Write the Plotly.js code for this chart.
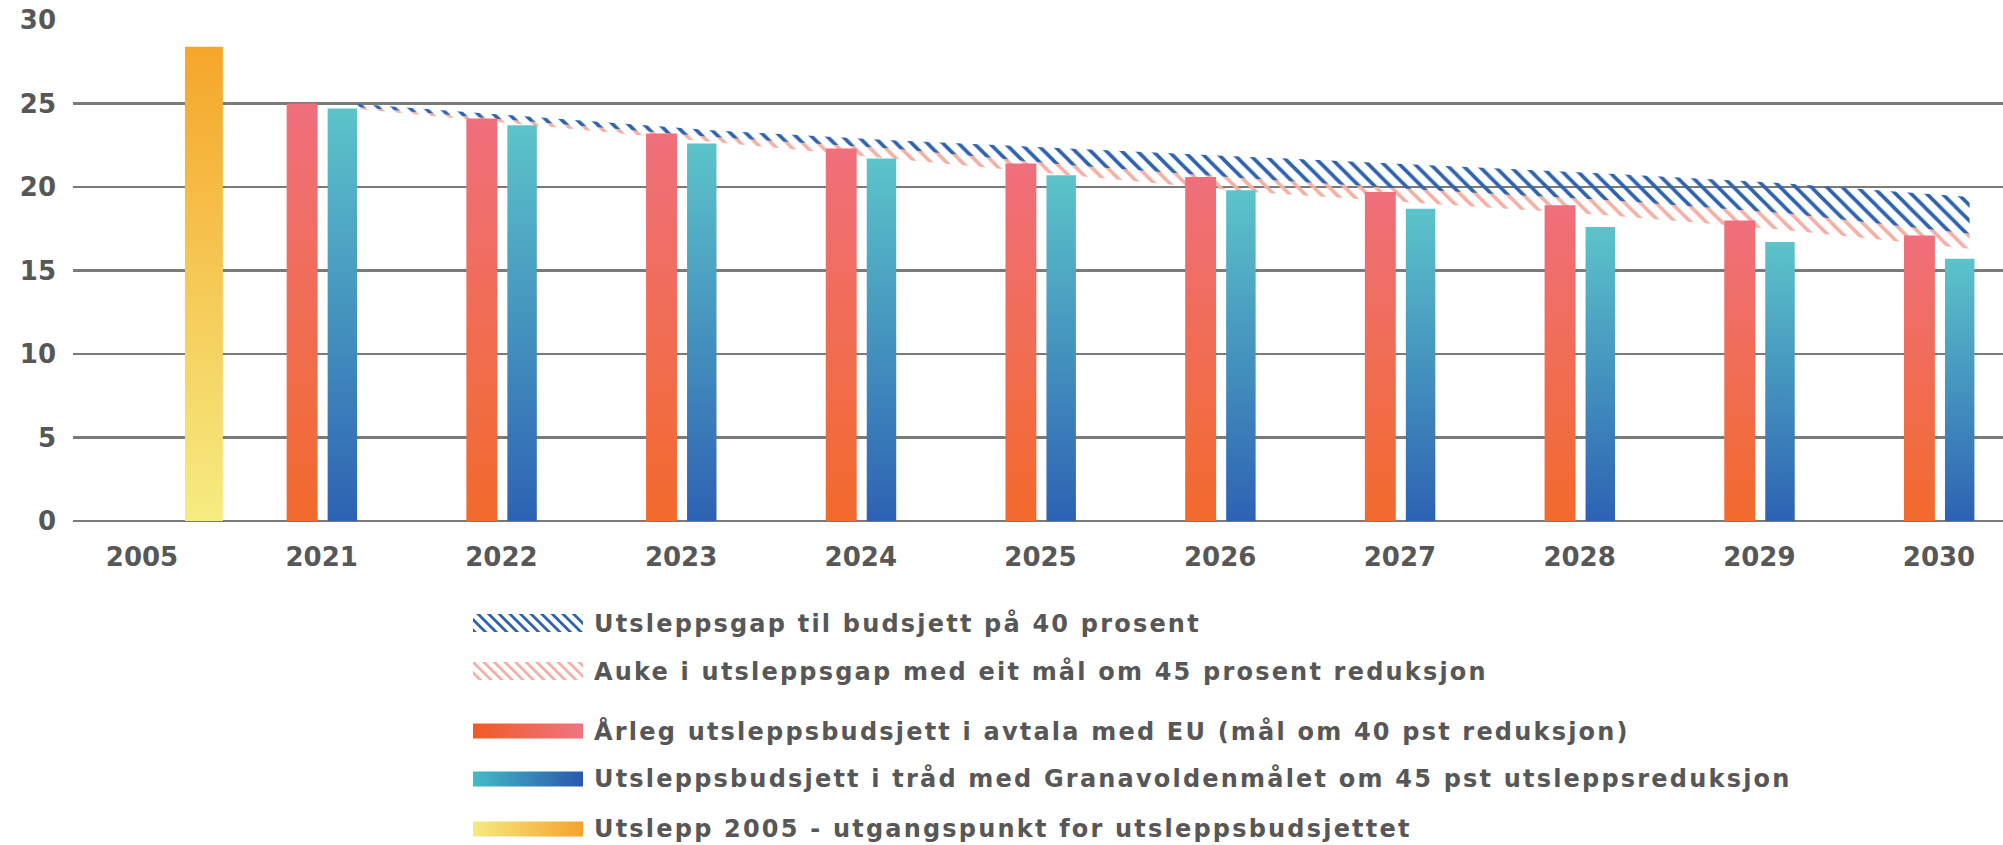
<!DOCTYPE html>
<html>
<head>
<meta charset="utf-8">
<script src="https://cdn.plot.ly/plotly-3.0.1.min.js"></script>
<style>
html,body{margin:0;padding:0;background:#ffffff;}
#chart{width:2003px;height:845px;}
</style>
</head>
<body>
<div id="chart"></div>
<script>
// ---------- data ----------
const years = ['2005','2021','2022','2023','2024','2025','2026','2027','2028','2029','2030'];
const emissions2005 = [28.4];
const budgetEU40 = [25.0, 24.1, 23.2, 22.3, 21.4, 20.6, 19.7, 18.9, 18.0, 17.1];
const budgetGranavolden45 = [24.7, 23.7, 22.6, 21.7, 20.7, 19.8, 18.7, 17.6, 16.7, 15.7];
const gapTop = [25.0, 24.2, 23.4, 22.8, 22.3, 21.8, 21.3, 20.8, 20.2, 19.4];
const gapMid = [24.8, 23.9, 23.0, 22.3, 21.3, 20.5, 19.8, 19.2, 18.4, 17.2];
const gapLow = [24.7, 23.7, 22.7, 21.7, 20.7, 19.7, 19.0, 18.3, 17.4, 16.3];
const yTicks = [0, 5, 10, 15, 20, 25, 30];
const legendLabels = [
  'Utsleppsgap til budsjett på 40 prosent',
  'Auke i utsleppsgap med eit mål om 45 prosent reduksjon',
  'Årleg utsleppsbudsjett i avtala med EU (mål om 40 pst reduksjon)',
  'Utsleppsbudsjett i tråd med Granavoldenmålet om 45 pst utsleppsreduksjon',
  'Utslepp 2005 - utgangspunkt for utsleppsbudsjettet'
];

// ---------- layout helpers ----------
const W = 2003, H = 845;
const M = {l: 73, r: 0, t: 20, b: 324};
const plotW = W - M.l - M.r, plotH = H - M.t - M.b;
const px2x = p => (p - M.l) / plotW;
const px2y = p => (H - M.b - p) / plotH;

const pos = years.map((_, i) => i);
const budgetPos = pos.slice(1);
const bandPos = budgetPos.map(v => v + 0.17);
const xRange = [-0.384, 10.356];

const font = 'DejaVu Sans, sans-serif';
const textColor = '#575757';

const traces = [
  // hatched gap bands (base subplot, below bars)
  {type:'scatter', mode:'lines', x: bandPos, y: gapLow, line:{width:0}, hoverinfo:'skip', showlegend:false},
  {type:'scatter', mode:'lines', x: bandPos, y: gapMid, line:{width:0}, fill:'tonexty',
   fillcolor:'rgba(0,0,0,0)', hoverinfo:'skip', showlegend:false, name: legendLabels[1],
   fillpattern:{shape:'\\', fgcolor:'#F4B0A4', bgcolor:'rgba(0,0,0,0)', size:11, solidity:0.33}},
  {type:'scatter', mode:'lines', x: bandPos, y: gapTop, line:{width:0}, fill:'tonexty',
   fillcolor:'rgba(0,0,0,0)', hoverinfo:'skip', showlegend:false, name: legendLabels[0],
   fillpattern:{shape:'\\', fgcolor:'#2F62AE', bgcolor:'rgba(0,0,0,0)', size:11, solidity:0.33}},
  // bars (overlaid subplot, on top)
  {type:'bar', x: budgetPos, y: budgetEU40, width:0.172, offset:-0.195, xaxis:'x2', yaxis:'y2',
   marker:{color:'#EF6B5A', line:{width:0}}, name: legendLabels[2], showlegend:false},
  {type:'bar', x: budgetPos, y: budgetGranavolden45, width:0.164, offset:0.033, xaxis:'x2', yaxis:'y2',
   marker:{color:'#4A9DC4', line:{width:0}}, name: legendLabels[3], showlegend:false},
  {type:'bar', x: [pos[0]], y: emissions2005, width:0.211, offset:0.239, xaxis:'x2', yaxis:'y2',
   marker:{color:'#F6C24A', line:{width:0}}, name: legendLabels[4], showlegend:false}
];

// legend rows (pixel centres)
const rowY = [623, 671, 731, 779, 829];
const swX0 = 473, swX1 = 583, txtX = 592;
const shapes = [];
const annotations = [];
rowY.forEach((cy, i) => {
  const h = i < 2 ? 18 : 15;
  shapes.push({type:'rect', xref:'paper', yref:'paper',
    x0: px2x(swX0), x1: px2x(swX1), y0: px2y(cy + h/2), y1: px2y(cy - h/2),
    line:{width:0}, fillcolor:'#cccccc', layer:'above'});
  annotations.push({xref:'paper', yref:'paper', x: px2x(txtX), y: px2y(cy),
    xanchor:'left', yanchor:'middle', showarrow:false, text: legendLabels[i],
    font:{family: font, size: 24, weight: 'bold', color: textColor}});
});

const layout = {
  width: W, height: H,
  margin: M,
  paper_bgcolor:'#ffffff', plot_bgcolor:'#ffffff',
  showlegend:false,
  barmode:'overlay',
  xaxis:{range: xRange, tickvals: pos, ticktext: years, showgrid:false, zeroline:false,
    showline:false, ticks:'', ticklabelstandoff: 18,
    tickfont:{family: font, size: 26, weight:'bold', color: textColor}, fixedrange:true},
  yaxis:{range:[0,30], tickvals: yTicks, showgrid:true, gridcolor:'#7a7a7a', gridwidth:2.2,
    zeroline:true, zerolinecolor:'#7a7a7a', zerolinewidth:2.2, showline:false, ticks:'',
    ticklabelstandoff: 16, tickfont:{family: font, size: 26, weight:'bold', color: textColor}, fixedrange:true},
  xaxis2:{range: xRange, overlaying:'x', visible:false, fixedrange:true},
  yaxis2:{range:[0,30], overlaying:'y', visible:false, fixedrange:true},
  shapes: shapes,
  annotations: annotations
};

const gd = document.getElementById('chart');
Plotly.newPlot(gd, traces, layout, {staticPlot:true, displayModeBar:false}).then(() => {
  const svg = gd.querySelector('svg.main-svg');
  const NS = 'http://www.w3.org/2000/svg';
  const defs = document.createElementNS(NS, 'defs');
  defs.innerHTML = `
    <linearGradient id="gRedV" x1="0" y1="0" x2="0" y2="1">
      <stop offset="0" stop-color="#EF6F7C"/><stop offset="1" stop-color="#F26A2C"/></linearGradient>
    <linearGradient id="gBlueV" x1="0" y1="0" x2="0" y2="1">
      <stop offset="0" stop-color="#5CC4CA"/><stop offset="1" stop-color="#2D62B3"/></linearGradient>
    <linearGradient id="gYellowV" x1="0" y1="0" x2="0" y2="1">
      <stop offset="0" stop-color="#F5A62A"/><stop offset="1" stop-color="#F6EC82"/></linearGradient>
    <linearGradient id="gRedH" x1="0" y1="0" x2="1" y2="0">
      <stop offset="0" stop-color="#F05A26"/><stop offset="1" stop-color="#F07482"/></linearGradient>
    <linearGradient id="gBlueH" x1="0" y1="0" x2="1" y2="0">
      <stop offset="0" stop-color="#45BAC6"/><stop offset="1" stop-color="#2A58AC"/></linearGradient>
    <linearGradient id="gYellowH" x1="0" y1="0" x2="1" y2="0">
      <stop offset="0" stop-color="#F6EA7E"/><stop offset="1" stop-color="#F6A22E"/></linearGradient>
    <pattern id="hBlue" patternUnits="userSpaceOnUse" width="7.5" height="7.5" patternTransform="rotate(-45)">
      <rect x="0" y="0" width="2.8" height="7.5" fill="#2F62AE"/></pattern>
    <pattern id="hPink" patternUnits="userSpaceOnUse" width="7.5" height="7.5" patternTransform="rotate(-45)">
      <rect x="0" y="0" width="2.8" height="7.5" fill="#F4B0A8"/></pattern>`;
  svg.insertBefore(defs, svg.firstChild);

  const barFills = ['gRedV', 'gBlueV', 'gYellowV'];
  gd.querySelectorAll('.barlayer .trace').forEach((g, i) => {
    g.querySelectorAll('path').forEach(p => {
      p.style.fill = 'url(#' + barFills[i] + ')';
      p.style.fillOpacity = 1;
    });
  });
  const shapeFills = ['hBlue', 'hPink', 'gRedH', 'gBlueH', 'gYellowH'];
  gd.querySelectorAll('.shapelayer path').forEach(p => {
    const idx = +p.getAttribute('data-index');
    if (!isNaN(idx) && shapeFills[idx]) {
      p.style.fill = 'url(#' + shapeFills[idx] + ')';
      p.style.fillOpacity = 1;
    }
  });
  // widen legend text spacing while keeping the left edge fixed
  gd.querySelectorAll('.annotation-text').forEach(t => {
    const b = t.getBBox();
    t.setAttribute('text-anchor', 'start');
    t.style.textAnchor = 'start';
    t.setAttribute('x', b.x);
    t.querySelectorAll('tspan').forEach(s => { if (s.hasAttribute('x')) s.setAttribute('x', b.x); });
    t.style.letterSpacing = '2.2px';
  });
});
</script>
</body>
</html>
